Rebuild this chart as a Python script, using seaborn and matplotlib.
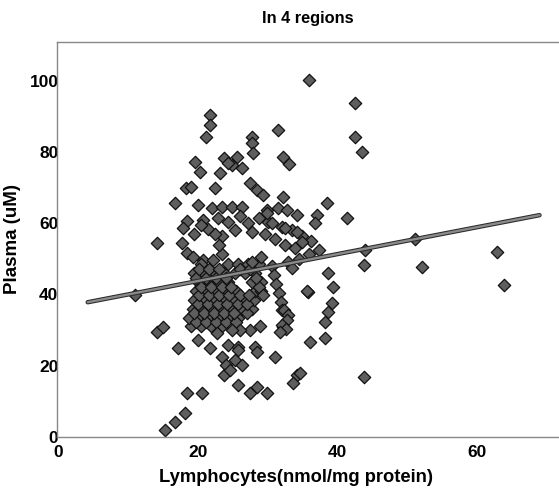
# Plasma vs lymphocytes, scatter + fitted line
import matplotlib
matplotlib.use('Agg')
import numpy as np
import pandas as pd
import seaborn as sns
import matplotlib.pyplot as plt

# Datos (nmol/mg protein, uM)
lymph = [
    36.0, 42.6, 42.6, 43.5, 21.7, 21.7, 21.1, 31.5, 27.7, 27.7, 27.9, 32.2, 33.1,
    19.6, 20.3, 23.8, 25.6, 24.9, 26.4, 23.2, 24.3, 18.3, 19.0, 22.5, 27.5, 28.5,
    29.3, 32.2, 16.7, 20.0, 38.5, 41.4, 37.1, 36.8,
    22.0, 23.5, 24.9, 26.4, 29.9, 31.5, 32.8, 34.2,
    18.4, 17.9, 14.2, 20.8, 21.4, 22.9, 24.3, 26.0, 27.2, 28.7, 30.1, 32.0, 33.5,
    34.9, 36.3, 37.4, 27.7, 29.6, 31.1, 32.5, 34.0, 25.3, 23.4,
    17.7, 18.4, 19.3, 20.8, 22.2, 23.4, 23.1, 22.4, 19.5, 20.5,
    19.0, 20.5, 21.9, 23.4,
    18.8, 20.2, 21.5, 22.9, 24.3, 25.8,
    19.3, 20.8, 22.1, 23.5, 25.0, 26.4, 27.7,
    19.5, 20.9, 22.4, 23.8, 25.2, 26.6, 28.0,
    19.8, 21.2, 22.7, 24.0, 25.4, 28.2, 29.1,
    20.0, 21.4, 22.9, 24.3, 27.7, 29.0,
    19.5, 20.9, 22.4, 23.8, 25.3, 26.7, 28.2,
    20.5, 24.3, 25.8, 27.2, 28.7,
    19.7, 21.1, 22.6, 24.0, 25.5,
    19.5, 20.9, 22.3, 23.7, 25.2, 27.0,
    20.0, 21.4, 22.9, 24.2, 25.7, 27.0,
    20.2, 21.6, 23.1, 24.5, 26.0, 27.3,
    20.5, 21.9, 23.4, 24.7, 28.7,
    19.7, 21.1, 22.6, 24.0, 28.4,
    20.2, 21.6, 23.1, 26.0, 27.5,
    30.6, 30.9, 31.2, 31.6, 31.9, 32.0, 32.4, 32.9, 32.8, 32.2,
    33.0, 34.5, 35.9, 33.5, 29.1, 27.7,
    32.0, 32.7, 31.8, 28.9, 27.5, 26.1, 24.9, 29.3,
    24.3, 25.7, 23.5, 24.1, 23.8, 24.6, 25.8, 25.3, 26.4, 28.2, 28.5, 31.1,
    25.8, 27.5, 28.5, 29.9, 34.2, 33.6, 36.1, 38.2, 38.6, 39.4, 39.2, 38.6,
    38.2, 35.8, 14.1, 15.0, 17.2, 20.0, 21.7, 22.7,
    15.3, 16.7, 18.1, 18.4, 20.6, 11.0,
    44.0, 43.8, 51.2, 52.1, 62.9, 63.9, 43.8, 34.6, 35.6,
    29.9, 30.6, 32.5, 34.2, 34.9,
]
plasma = [
    100.3, 93.8, 84.2, 80.0, 90.4, 87.6, 84.2, 86.2, 84.3, 82.5, 79.7, 78.6, 76.8,
    77.3, 74.4, 78.3, 78.6, 76.4, 75.5, 74.1, 77.0, 70.0, 70.3, 69.9, 71.3, 69.3,
    67.9, 67.4, 65.7, 65.1, 65.7, 61.5, 62.3, 60.1,
    64.3, 64.6, 64.6, 64.6, 63.7, 64.3, 63.7, 62.3,
    60.6, 58.6, 54.4, 61.0, 58.5, 61.5, 60.5, 62.0, 60.0, 61.5, 60.5, 59.0, 58.0,
    56.5, 55.0, 52.5, 57.5, 57.0, 55.5, 54.0, 53.0, 58.0, 56.5,
    54.5, 51.7, 50.5, 49.6, 49.6, 51.5, 54.0, 57.0, 57.0, 59.5,
    31.0, 31.0, 31.0, 31.0,
    33.5, 33.5, 33.5, 33.5, 33.5, 33.5,
    36.0, 36.0, 36.0, 36.0, 36.0, 36.0, 36.0,
    38.5, 38.5, 38.5, 38.5, 38.5, 38.5, 38.5,
    41.0, 41.0, 41.0, 41.0, 41.0, 41.0, 41.0,
    43.5, 43.5, 43.5, 43.5, 43.5, 43.5,
    46.0, 46.0, 46.0, 46.0, 46.0, 46.0, 46.0,
    48.5, 48.5, 48.5, 48.5, 48.5,
    32.2, 32.2, 32.2, 32.2, 32.2,
    34.7, 34.7, 34.7, 34.7, 34.7, 34.7,
    37.2, 37.2, 37.2, 37.2, 37.2, 37.2,
    39.7, 39.7, 39.7, 39.7, 39.7, 39.7,
    42.2, 42.2, 42.2, 42.2, 42.2,
    44.7, 44.7, 44.7, 44.7, 44.7,
    47.2, 47.2, 47.2, 47.2, 47.2,
    48.0, 45.5, 43.0, 40.5, 38.0, 35.5, 35.6, 34.2, 32.8, 30.8,
    49.0, 50.0, 51.5, 47.5, 50.5, 49.0,
    31.5, 30.2, 29.5, 31.0, 30.0, 30.0, 30.0, 39.8,
    25.7, 25.2, 22.4, 20.1, 17.3, 18.7, 24.4, 21.6, 20.1, 25.2, 23.8, 22.4,
    14.5, 12.2, 13.9, 12.2, 17.3, 15.0, 26.6, 27.7, 46.0, 42.1, 37.5, 35.0,
    32.2, 40.6, 29.4, 30.8, 24.9, 27.1, 24.9, 29.1,
    1.8, 4.1, 6.6, 12.2, 12.2, 39.8,
    52.5, 48.2, 55.5, 47.7, 51.9, 42.6, 16.7, 17.9, 40.9,
    62.9, 60.1, 58.7, 57.5, 54.7,
]

# Recta de regresion (extremos leidos)
fit_x = [4.2, 69.0]
fit_y = [37.8, 62.3]

df = pd.DataFrame({'lymph': lymph, 'plasma': plasma})
df_fit = pd.DataFrame({'x': fit_x, 'y': fit_y})

sns.set_theme(style='white')
plt.rcParams['font.family'] = ['Liberation Sans', 'DejaVu Sans']
plt.rcParams['font.weight'] = 'bold'

fig = plt.figure(figsize=(5.59, 4.95), dpi=100)
ax = fig.add_axes([0.102, 0.118, 0.898, 0.797])

sns.scatterplot(data=df, x='lymph', y='plasma', marker='D', s=40,
                color='#5e5e5e', edgecolor='#111111', linewidth=0.9, ax=ax, zorder=2)
sns.lineplot(data=df_fit, x='x', y='y', color='#2a2a2a', linewidth=3.2, ax=ax, zorder=3)
sns.lineplot(data=df_fit, x='x', y='y', color='#8a8a8a', linewidth=1.7, ax=ax, zorder=4)

ax.set_xlim(-0.2, 71.8)
ax.set_ylim(0, 111)
ax.set_xticks([0, 20, 40, 60])
ax.set_yticks([0, 20, 40, 60, 80, 100])
ax.tick_params(direction='in', length=5, width=0.8, colors='#333333',
               labelsize=12.5, labelcolor='black')
ax.tick_params(axis='x', pad=6)
ax.tick_params(axis='y', pad=-1)
for lab in ax.get_xticklabels() + ax.get_yticklabels():
    lab.set_fontweight('bold')

for side in ['left', 'bottom', 'top']:
    ax.spines[side].set_color('#888888')
    ax.spines[side].set_linewidth(1.0)
    ax.spines[side].set_linestyle((0, (1, 1)))
ax.spines['right'].set_visible(False)

ax.set_title('In 4 regions', fontsize=11.8, fontweight='bold', color='black', pad=14)
ax.set_xlabel('Lymphocytes(nmol/mg protein)', fontsize=13.2, fontweight='bold',
              color='black', labelpad=7)
ax.xaxis.set_label_coords(0.476, -0.083)
ax.set_ylabel('Plasma (uM)', fontsize=13.5, fontweight='bold', color='black', labelpad=6)

plt.savefig('out.png', dpi=100)
